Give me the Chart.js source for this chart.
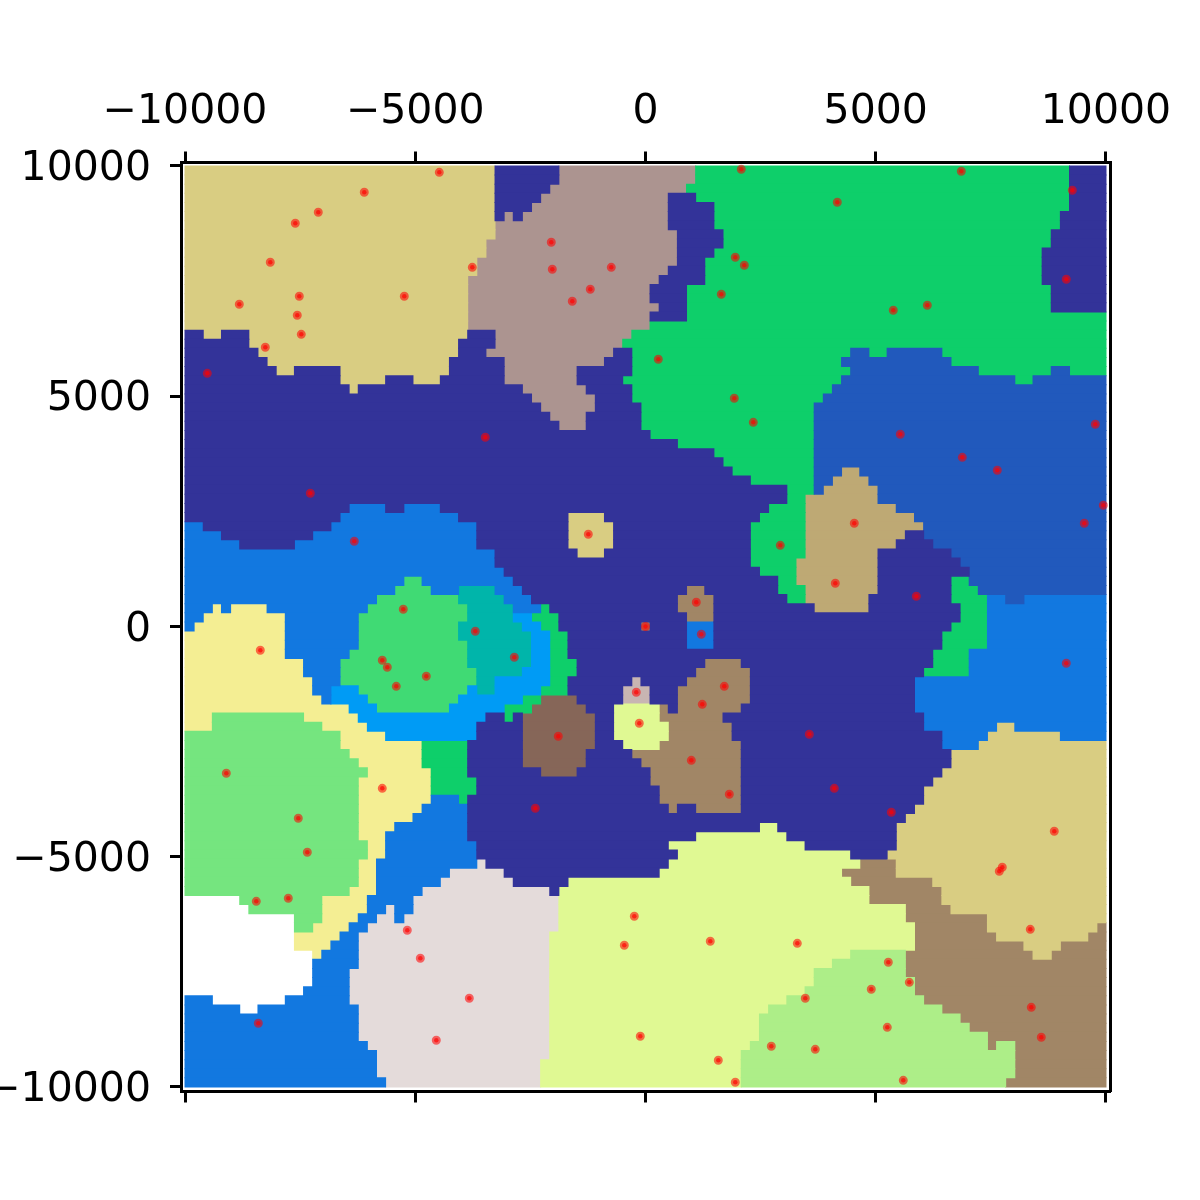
<!DOCTYPE html>
<html>
<head>
<meta charset="utf-8">
<script src="https://cdn.jsdelivr.net/npm/chart.js@4"></script>
<style>
  html, body { margin: 0; background: #fff; }
  canvas { display: block; }
</style>
</head>
<body>
<canvas id="chart" width="1200" height="1200"></canvas>
<script>
// region colours, keyed by the letter used in regionRows
const regionColors = {
  a: "#333399", b: "#2159BC", c: "#1278E0", d: "#009BF5", e: "#00B5AA",
  f: "#0ECF6A", g: "#40DA74", h: "#75E57F", i: "#ADEE88", j: "#E0F993",
  k: "#F4EE93", l: "#D9CD82", m: "#BEA974", n: "#A18666", o: "#866658",
  p: "#AC9490", q: "#C8B5B2", r: "#E4DBDA", w: "#FFFFFF",
};

// one string per grid row, top to bottom: letter + first column of that run
const regionRows = [
  "l0 a34 p41 f56 a97",
  "l0 a34 p41 f56 a97",
  "l0 a34 p40 f55 a97",
  "l0 a34 p39 a53 f56 a97",
  "l0 a34 p38 a53 f58 a97",
  "l0 a34 p35 a36 p37 a53 f58 a96",
  "l0 p34 a53 f58 a96",
  "l0 p34 a54 f59 a95",
  "l0 p33 a54 f59 a95",
  "l0 p33 a54 f58 a94",
  "l0 p32 a54 f57 a94",
  "l0 p32 a53 f57 a94",
  "l0 p31 a52 f57 a94",
  "l0 p31 a51 f55 a95",
  "l0 p31 a51 f55 a95",
  "l0 p31 a52 f55 a95",
  "l0 p31 a51 f55",
  "l0 p31 f51",
  "a0 l2 a4 l7 a31 p34 f49",
  "a0 l7 a30 p34 f48",
  "a0 l8 a30 p33 a47 f49 b73 f75 b77 f83",
  "a0 l9 a29 p35 a46 f49 b72 f84",
  "a0 l10 a12 l17 a29 p35 a43 f49 b73 f87 b95 f97",
  "a0 l17 a22 l25 a28 p35 a43 f48 b72 f91 b93",
  "a0 l18 a19 p37 a44 f49 b71",
  "a0 p38 a45 f49 b70",
  "a0 p39 a45 f50 b69",
  "a0 p40 a44 f50 b69",
  "a0 p41 a44 f50 b69",
  "a0 f51 b69",
  "a0 f54 b69",
  "a0 f58 b69",
  "a0 f59 b69",
  "a0 f60 b69 m72 b74",
  "a0 f62 b69 m71 b75",
  "a0 f66 b69 m70 b76",
  "a0 f66 m68 b76",
  "a0 c18 a22 c24 a28 f64 m68 b78",
  "a0 c17 a30 l42 a46 f63 m68 b80",
  "c0 a2 c16 a32 l42 a47 f62 m68 b81",
  "c0 a4 c14 a32 l42 a47 f62 m68 a79 b81",
  "c0 a6 c12 a32 l42 a47 f62 m68 a78 b82",
  "c0 a34 l43 a46 f62 m68 a76 b84",
  "c0 a34 f62 m67 a76 b85",
  "c0 a35 f63 m67 a76 b86",
  "c0 g24 c26 a36 f65 m67 a76 f84 b86",
  "c0 g23 c27 e30 c34 a37 n55 a57 f65 m68 a76 f84 b87",
  "c0 g21 e30 c35 a38 n54 a58 f66 m68 a75 f84 c88 b90 c92",
  "c0 k3 c4 k5 c9 g20 e31 c36 f39 a40 n54 a58 m69 a75 f85 c88",
  "c0 k2 c11 g19 e31 d36 f38 a41 n55 a58 f85 c88",
  "c0 k1 c11 g19 e30 d37 f39 a41 n50 a51 c55 a58 f84 c88",
  "k0 c11 g19 e30 d38 f40 a42 c55 a58 f83 c88",
  "k0 c11 g19 e31 d38 f40 a42 c55 a58 f83 c88",
  "k0 c11 g18 e31 d38 f40 a42 f82 c86",
  "k0 c13 g17 e31 d38 f40 a43 n57 a61 f82 c86",
  "k0 c13 g17 e32 d37 f40 a43 n56 a62 f81 c86",
  "k0 c14 g17 e32 d34 f40 a42 q49 a50 n55 a62 c80",
  "k0 c14 d16 g19 d31 e32 d34 f39 a42 q48 a51 n54 a62 c80",
  "k0 c15 d16 g20 d30 f37 o39 a43 q48 a51 n54 a62 c80",
  "k0 d18 g21 d29 f35 o38 a44 j47 n52 a53 n54 a61 c80",
  "k0 h3 k13 d19 a33 f35 a36 o37 a45 j47 n52 a59 c81",
  "k0 h3 k15 d20 a32 o37 a45 j47 n53 a60 c81 l89 c91",
  "h0 k17 d22 a32 o37 a45 j47 n53 a60 c83 l88 c96",
  "h0 k17 f26 a31 o37 a45 j48 n52 a61 c83 l87",
  "h0 k18 f26 a31 o37 a44 n49 a61 l84",
  "h0 k19 f26 a31 o37 a44 n50 a61 l84",
  "h0 k20 f27 a31 o39 a43 n51 a61 l83",
  "h0 k19 f27 a32 n51 a61 l82",
  "h0 k19 f27 a32 n52 a61 l81",
  "h0 k19 c27 f30 a31 n52 a61 l81",
  "h0 k19 c26 a31 n53 a54 n56 a61 l80",
  "h0 k19 c25 a31 l79",
  "h0 k19 c23 a31 j63 a65 l78",
  "h0 k19 c22 a31 j56 a66 l78",
  "h0 k20 c22 a32 j53 a68 l78",
  "h0 k20 c22 a32 j54 a73 l77",
  "h0 k19 c21 r32 a33 j53 n74 l78",
  "h0 k19 c21 r29 a35 j52 n72 l78",
  "h0 k19 c21 r28 a36 j42 n73 l82",
  "h0 k18 c21 r26 a40 j41 n75 l83",
  "w0 h6 k15 c20 r25 j41 n75 l83",
  "w0 h7 k15 c20 r22 c23 r25 j41 n79 l84",
  "w0 h12 k15 c19 r21 c23 r24 j41 n79 l88",
  "w0 h12 k14 c18 r20 j41 n80 l88 n100",
  "w0 k12 c17 r19 j40 n80 l89 n99",
  "w0 k12 c16 r19 j40 n80 l92 n96",
  "w0 k14 c15 r19 j40 i73 n79 l93 n95",
  "w0 c14 r19 j40 i71 n79",
  "w0 c14 r18 j40 i69 n79",
  "w0 c14 r18 j40 i69 n80",
  "w0 c13 r18 j40 i68 n80",
  "c0 w3 c11 r18 j40 i66 n81",
  "c0 w6 c8 r19 j40 i64 n83",
  "c0 r19 j40 i63 n85",
  "c0 r19 j40 i63 n86",
  "c0 r19 j40 i63 n88",
  "c0 r20 j40 i62 n88 i89 n91",
  "c0 r21 j40 i61 n91",
  "c0 r21 j39 i61 n91",
  "c0 r21 j39 i61 n91",
  "c0 r22 j39 i61 n90",
];

const pointsX = [
  -4478, -6107, -7106, -7605, -8148, -3761, -7518, -5238, -8821, -7562,
  -7475, -8256, -9516, 2080, -2046, -743, -2024, -1199, -1590, 1950,
  2146, 1646, 278, 6858, 4165, 9269, 9138, 5381, 6120, -3479,
  -7279, -6324, -5260, 1928, 2341, -1242, 2927, 1103, 5533, 6880,
  7640, 9768, 4534, 9942, 9529, 4122, 5881, -3696, -8365, -5716,
  -5607, -4760, -5412, -9103, -5716, -7540, -7344, 0, 1212, -2849,
  1711, -200, 1233, -135, -1894, 995, 1820, -2393, 9138, 3557,
  4100, 5338, 8877, -8452, -7757, -5173, -4890, -3826, -8408, -4543,
  -243, -460, 1407, 3297, -113, 2732, 1581, 1950, 7748, 7683,
  8356, 5273, 5729, 4903, 3470, 8378, 8595, 5251, 3687, 5598,
];
const pointsY = [
  9863, 9429, 8995, 8756, 7909, 7800, 7171, 7171, 6997, 6758,
  6345, 6063, 5498, 9929, 8343, 7800, 7757, 7323, 7062, 8018,
  7844, 7214, 5803, 9885, 9212, 9473, 7540, 6867, 6975, 4109,
  2893, 1850, 374, 4956, 4434, 2002, 1763, 526, 4174, 3674,
  3392, 4391, 2241, 2632, 2241, 938, 656, -104, -517, -734,
  -886, -1081, -1299, -3188, -3514, -4165, -4903, 0, -169, -669,
  -1299, -1429, -1690, -2102, -2384, -2906, -3644, -3948, -799, -2341,
  -3514, -4035, -4447, -5968, -5902, -6597, -7205, -8074, -8617, -8986,
  -6293, -6923, -6836, -6880, -8899, -9116, -9420, -9898, -5229, -5316,
  -6576, -7292, -7727, -7878, -8074, -8270, -8921, -8704, -9182, -9855,
];

const tickValues = [-10000, -5000, 0, 5000, 10000];

const GRID_CELLS = 101;
const CELL = 20000 / GRID_CELLS;

// turn the row strings into floating horizontal bars, one dataset per colour
const runsByLetter = {};
Object.keys(regionColors).forEach((k) => { runsByLetter[k] = []; });
regionRows.forEach((row, r) => {
  const runs = row.split(" ").map((s) => [s[0], Number(s.slice(1))]);
  runs.forEach(([letter, start], i) => {
    const end = i + 1 < runs.length ? runs[i + 1][1] : GRID_CELLS;
    runsByLetter[letter].push({
      x: [-10000 + start * CELL, -10000 + end * CELL],
      y: 10000 - (r + 0.5) * CELL,
    });
  });
});

const regionDatasets = Object.keys(regionColors).map((k) => ({
  label: k,
  data: runsByLetter[k],
  backgroundColor: regionColors[k],
  borderWidth: 0,
  inflateAmount: 0.5,
  barPercentage: 1,
  categoryPercentage: 1,
  grouped: false,
  xAxisID: "x",
  yAxisID: "y",
  order: 2,
}));

// force the axis boxes so the frame lands where it should
const fixWidth = (w) => (s) => { s.width = w; };
const fixHeight = (h) => (s) => { s.height = h; };
const setTicks = (s) => { s.ticks = tickValues.map((value) => ({ value })); };
const tickText = (v) => String(v).replace("-", "\u2212");

const XMIN = -10087, XMAX = 10098, YMIN = -10098, YMAX = 10076;
const tickFont = { family: "DejaVu Sans", size: 41 };
const border = { display: true, color: "#000", width: 3 };
const tickGrid = { offset: false, drawOnChartArea: false, drawTicks: true, tickLength: 11, tickWidth: 3, tickColor: "#000", color: "#000" };

new Chart(document.getElementById("chart"), {
  type: "bar",
  data: {
    datasets: [
      ...regionDatasets,
      {
        type: "scatter",
        indexAxis: "x",
        data: pointsX.map((x, i) => ({ x, y: pointsY[i] })),
        backgroundColor: "rgba(255,0,0,0.66)",
        borderColor: "rgba(255,0,0,0.56)",
        borderWidth: 4.5,
        pointRadius: 2.25,
        xAxisID: "x",
        yAxisID: "y",
        clip: false,
        order: 1,
      },
    ],
  },
  options: {
    responsive: false,
    animation: false,
    indexAxis: "y",
    layout: { padding: 0 },
    plugins: { legend: { display: false }, tooltip: { enabled: false } },
    scales: {
      x: {
        type: "linear", position: "top", min: XMIN, max: XMAX,
        afterBuildTicks: setTicks, afterFit: fixHeight(162.5),
        border, grid: tickGrid,
        ticks: { color: "#000", font: tickFont, maxRotation: 0, autoSkip: false, padding: 15, callback: tickText },
      },
      xBottom: {
        type: "linear", position: "bottom", min: XMIN, max: XMAX,
        afterBuildTicks: setTicks, afterFit: fixHeight(108.5),
        border, grid: tickGrid,
        ticks: { color: "#000", font: tickFont, maxRotation: 0, autoSkip: false, callback: () => "" },
      },
      y: {
        type: "linear", position: "left", offset: false, min: YMIN, max: YMAX,
        afterBuildTicks: setTicks, afterFit: fixWidth(181),
        border, grid: tickGrid,
        ticks: { color: "#000", font: tickFont, autoSkip: false, padding: 19, labelOffset: 3.5, callback: tickText },
      },
      yRight: {
        type: "linear", position: "right", offset: false, min: YMIN, max: YMAX,
        afterFit: fixWidth(89.5),
        border,
        grid: { offset: false, drawOnChartArea: false, drawTicks: false },
        ticks: { display: false },
      },
    },
  },
});
</script>
</body>
</html>
